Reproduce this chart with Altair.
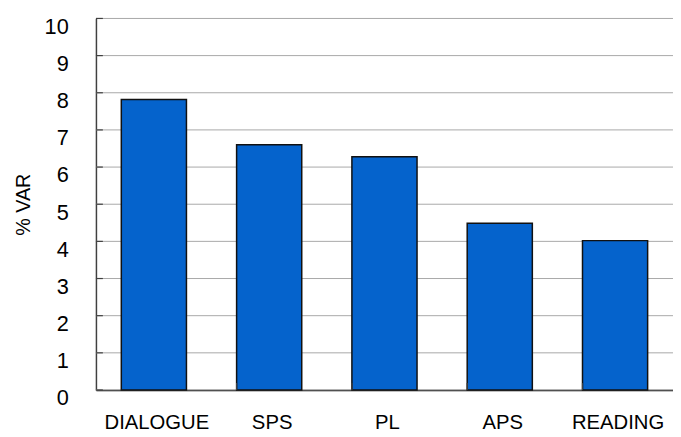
import altair as alt
import pandas as pd

categories = ["DIALOGUE", "SPS", "PL", "APS", "READING"]
values = [7.82, 6.6, 6.28, 4.49, 4.02]
y_ticks = [0, 1, 2, 3, 4, 5, 6, 7, 8, 9, 10]

df = pd.DataFrame({"cat": categories, "val": values})
ticks_df = pd.DataFrame({"t": y_ticks})
xt_df = pd.DataFrame({"cat": categories[1:]})

FONT = "Liberation Sans"
W, H = 584, 376

xscale = alt.Scale(domain=categories, paddingInner=0.435, paddingOuter=0.22)
yscale = alt.Scale(domain=[0, 10], nice=False)

yaxis = alt.Axis(title="% VAR", values=y_ticks, labelOverlap=False,
                 titleFont=FONT, titleFontSize=20,
                 titleFontWeight="normal", titleColor="#000000", titlePadding=11,
                 labelFont=FONT, labelFontSize=22, labelColor="#000000",
                 labelPadding=28, labelOffset=8, ticks=False,
                 domainColor="#404040", domainWidth=1.5,
                 grid=False)
xaxis = alt.Axis(title=None, labelAngle=0, labelFont=FONT, labelFontSize=20.5,
                 labelColor="#000000", ticks=False, domain=True,
                 domainColor="#000000", domainWidth=1.5, labelPadding=23,
                 labelOffset=3, grid=False)

grid_rules = alt.Chart(ticks_df).mark_rule(color="#A8A8A8", strokeWidth=1).encode(
    y=alt.Y("t:Q", scale=yscale, axis=yaxis),
    x=alt.value(0),
    x2=alt.value(W),
)

bars = alt.Chart(df).mark_bar(
    color="#0563CC", stroke="#111111", strokeWidth=1.5
).encode(
    x=alt.X("cat:N", scale=xscale, sort=categories, axis=xaxis),
    y=alt.Y("val:Q", scale=yscale, axis=yaxis),
)

ytick_rules = alt.Chart(ticks_df).mark_rule(color="#404040", strokeWidth=1.2).encode(
    y=alt.Y("t:Q", scale=yscale, axis=yaxis),
    x=alt.value(0),
    x2=alt.value(7),
)

xtick_rules = alt.Chart(xt_df).mark_rule(color="#404040", strokeWidth=1.2).encode(
    x=alt.X("cat:N", scale=xscale, sort=categories, bandPosition=0, axis=xaxis),
    y=alt.value(H),
    y2=alt.value(H - 7),
)

chart = alt.layer(grid_rules, bars, ytick_rules, xtick_rules).properties(
    width=W, height=H,
    autosize=alt.AutoSizeParams(type="none"),
    padding={"left": 89, "top": 8, "right": 0, "bottom": 45},
).configure_view(stroke=None)

chart.save("out.html", embed_options={"renderer": "svg", "actions": False})
